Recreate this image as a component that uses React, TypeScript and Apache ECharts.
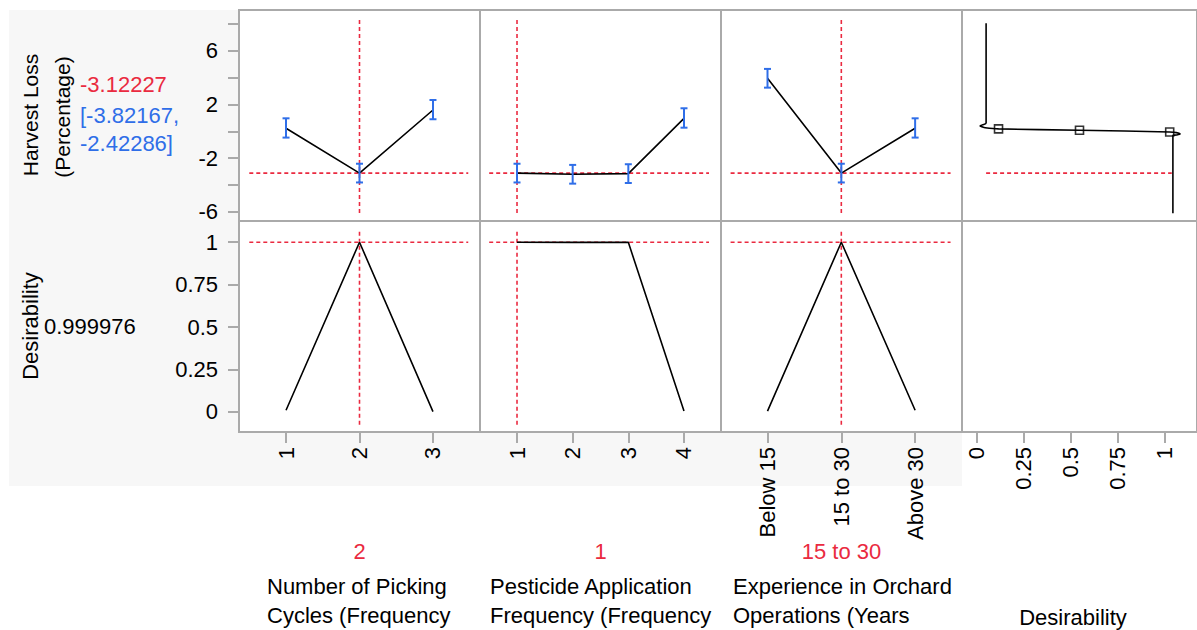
import React, { useEffect, useRef } from "react";
import * as echarts from "echarts";

// ---------- data ----------
const pickLevels = [1, 2, 3];
const pestLevels = [1, 2, 3, 4];
const expCategories = ["Below 15", "15 to 30", "Above 30"];
const expLevels = [1, 2, 3];

const lossPick = [0.23, -3.12227, 1.59];
const lossPickLo = [-0.47, -3.82167, 0.9];
const lossPickHi = [0.97, -2.42286, 2.34];

const lossPest = [-3.12227, -3.21, -3.16, 0.97];
const lossPestLo = [-3.82167, -3.91, -3.86, 0.27];
const lossPestHi = [-2.42286, -2.51, -2.46, 1.72];

const lossExp = [3.96, -3.12227, 0.23];
const lossExpLo = [3.26, -3.82167, -0.47];
const lossExpHi = [4.66, -2.42286, 0.97];

const desPick = [0.01, 0.999976, 0.002];
const desPest = [0.999976, 0.9992, 0.9993, 0.005];
const desExp = [0.005, 0.999976, 0.01];

// desirability function (x = desirability, y = harvest loss)
const desCurveD = [0.05, 0.05, 0.03, 0.018, 0.03, 0.045, 0.116, 0.546, 1.025, 1.06, 1.08, 1.06, 1.042, 1.042];
const desCurveLoss = [8.07, 0.62, 0.48, 0.4, 0.33, 0.27, 0.18, 0.08, -0.05, -0.1, -0.2, -0.28, -0.31, -6.12];
const desMarkD = [0.116, 0.546, 1.025];
const desMarkLoss = [0.18, 0.08, -0.05];

const lossTicks = [-6, -4, -2, 0, 2, 4, 6, 8];
const lossLabels = [-6, -2, 2, 6];
const desTicks = [0, 0.25, 0.5, 0.75, 1];

const currentPick = 2;
const currentPest = 1;
const currentExp = 2;
const predictedLoss = -3.12227;
const predictedLo = -3.82167;
const predictedHi = -2.42286;
const overallDes = 0.999976;

// ---------- style ----------
const RED = "#ea2a40";
const BLUE = "#2f6ee8";
const FONT = '"Liberation Sans", Arial, Helvetica, sans-serif';
const FS = 22;
const GRAY = "#aaaaaa";

const colLeft = [239, 480, 721, 962];
const colW = 241;
const rowTop = [10, 221];
const rowH = 211;

const xRanges = [
  [0.36, 3.64],
  [0.335, 4.665],
  [0.37, 3.635],
  [-0.078, 1.17],
];
const lossRange = [-6.7, 9.06];
const desRange = [-0.118, 1.125];

export default function App() {
  const ref = useRef<HTMLDivElement>(null);
  useEffect(() => {
    document.body.style.margin = "0";
    const chart = echarts.init(ref.current!, null, { renderer: "svg" });

    const grids: any[] = [];
    const xAxes: any[] = [];
    const yAxes: any[] = [];
    const xTickVals = [pickLevels, pestLevels, expLevels, desTicks];
    for (let r = 0; r < 2; r++) {
      for (let c = 0; c < 4; c++) {
        const idx = r * 4 + c;
        grids.push({
          left: colLeft[c],
          top: rowTop[r],
          width: colW,
          height: rowH,
          show: true,
          backgroundColor: "#ffffff",
          borderColor: GRAY,
          borderWidth: 2,
          containLabel: false,
        });
        const showX = r === 1;
        xAxes.push({
          type: "value",
          gridIndex: idx,
          position: "bottom",
          min: xRanges[c][0],
          max: xRanges[c][1],
          show: showX,
          axisLine: { show: false, onZero: false },
          splitLine: { show: false },
          axisTick: {
            show: showX,
            length: 11,
            customValues: xTickVals[c],
            lineStyle: { color: GRAY, width: 2 },
          },
          axisLabel: {
            show: showX,
            rotate: 90,
            margin: 15,
            customValues: xTickVals[c],
            fontSize: FS,
            fontFamily: FONT,
            color: "#000",
            formatter: c === 2 ? (v: number) => expCategories[Math.round(v) - 1] : (v: number) => String(v),
          },
        });
        const showY = c === 0;
        const yr = r === 0 ? lossRange : desRange;
        const yt = r === 0 ? lossTicks : desTicks;
        const yl = r === 0 ? lossLabels : desTicks;
        yAxes.push({
          type: "value",
          gridIndex: idx,
          position: "left",
          min: yr[0],
          max: yr[1],
          show: showY,
          axisLine: { show: false, onZero: false },
          splitLine: { show: false },
          axisTick: {
            show: showY,
            length: 11,
            customValues: yt,
            lineStyle: { color: GRAY, width: 2 },
          },
          axisLabel: {
            show: showY,
            margin: 21,
            align: "right",
            verticalAlign: "middle",
            customValues: yl,
            fontSize: FS,
            fontFamily: FONT,
            color: "#000",
            formatter: (v: number) => String(v),
          },
        });
      }
    }

    const series: any[] = [];
    const zip = (a: number[], b: number[]) => a.map((v, i) => [v, b[i]]);
    const blackLine = (idx: number, data: number[][]) => ({
      type: "line",
      xAxisIndex: idx,
      yAxisIndex: idx,
      data,
      symbol: "none",
      lineStyle: { color: "#000", width: 1.6 },
      z: 3,
      silent: true,
    });
    const redLine = (idx: number, data: number[][]) => ({
      type: "line",
      xAxisIndex: idx,
      yAxisIndex: idx,
      data,
      symbol: "none",
      lineStyle: { color: RED, width: 1.6, type: [4, 3] },
      z: 1,
      silent: true,
    });
    const errBars = (idx: number, xs: number[], lo: number[], hi: number[]) => ({
      type: "custom",
      xAxisIndex: idx,
      yAxisIndex: idx,
      z: 4,
      silent: true,
      data: xs.map((x, i) => [x, lo[i], hi[i]]),
      encode: { x: 0, y: [1, 2] },
      renderItem: (_p: any, api: any) => {
        const x = api.value(0);
        const a = api.coord([x, api.value(1)]);
        const b = api.coord([x, api.value(2)]);
        const hw = 3.5;
        const st = { stroke: BLUE, lineWidth: 2 };
        return {
          type: "group",
          children: [
            { type: "line", shape: { x1: a[0], y1: a[1], x2: b[0], y2: b[1] }, style: st },
            { type: "line", shape: { x1: a[0] - hw, y1: a[1], x2: a[0] + hw, y2: a[1] }, style: st },
            { type: "line", shape: { x1: b[0] - hw, y1: b[1], x2: b[0] + hw, y2: b[1] }, style: st },
          ],
        };
      },
    });

    // row 1: harvest loss
    series.push(blackLine(0, zip(pickLevels, lossPick)));
    series.push(errBars(0, pickLevels, lossPickLo, lossPickHi));
    series.push(blackLine(1, zip(pestLevels, lossPest)));
    series.push(errBars(1, pestLevels, lossPestLo, lossPestHi));
    series.push(blackLine(2, zip(expLevels, lossExp)));
    series.push(errBars(2, expLevels, lossExpLo, lossExpHi));
    series.push({
      type: "line",
      xAxisIndex: 3,
      yAxisIndex: 3,
      data: zip(desCurveD, desCurveLoss),
      symbol: "none",
      smooth: 0.3,
      lineStyle: { color: "#000", width: 1.6 },
      z: 3,
      silent: true,
    });
    series.push({
      type: "scatter",
      xAxisIndex: 3,
      yAxisIndex: 3,
      data: zip(desMarkD, desMarkLoss),
      symbol: "rect",
      symbolSize: 8,
      itemStyle: { color: "rgba(255,255,255,0)", borderColor: "#000", borderWidth: 1.6 },
      z: 5,
      silent: true,
    });

    // crosshairs row 1
    const lossVTop = 8.46;
    const lossVBot = -6.1;
    series.push(redLine(0, [[currentPick, lossVBot], [currentPick, lossVTop]]));
    series.push(redLine(1, [[currentPest, lossVBot], [currentPest, lossVTop]]));
    series.push(redLine(2, [[currentExp, lossVBot], [currentExp, lossVTop]]));
    series.push(redLine(0, [[0.5, predictedLoss], [3.48, predictedLoss]]));
    series.push(redLine(1, [[0.5, predictedLoss], [4.45, predictedLoss]]));
    series.push(redLine(2, [[0.5, predictedLoss], [3.48, predictedLoss]]));
    series.push(redLine(3, [[0.05, predictedLoss], [1.036, predictedLoss]]));

    // row 2: desirability
    series.push(blackLine(4, zip(pickLevels, desPick)));
    series.push(blackLine(5, zip(pestLevels, desPest)));
    series.push(blackLine(6, zip(expLevels, desExp)));
    const desVTop = 1.072;
    const desVBot = -0.075;
    series.push(redLine(4, [[currentPick, desVBot], [currentPick, desVTop]]));
    series.push(redLine(5, [[currentPest, desVBot], [currentPest, desVTop]]));
    series.push(redLine(6, [[currentExp, desVBot], [currentExp, desVTop]]));
    series.push(redLine(4, [[0.5, overallDes], [3.48, overallDes]]));
    series.push(redLine(5, [[0.5, overallDes], [4.45, overallDes]]));
    series.push(redLine(6, [[0.5, overallDes], [3.48, overallDes]]));

    const txt = (text: string, x: number, y: number, opts: any = {}) => ({
      type: "text",
      x,
      y,
      rotation: opts.rotation || 0,
      z: 10,
      style: {
        text,
        fill: opts.color || "#000",
        font: `${opts.size || FS}px ${FONT}`,
        textAlign: opts.align || "left",
        textVerticalAlign: "middle",
      },
    });

    const graphic: any[] = [
      {
        type: "rect",
        z: -100,
        shape: { x: 9, y: 10, width: 953, height: 476 },
        style: { fill: "#f7f7f7" },
        silent: true,
      },
      txt("Harvest Loss", 30, 115, { rotation: Math.PI / 2, align: "center", size: 21 }),
      txt("(Percentage)", 62, 117, { rotation: Math.PI / 2, align: "center", size: 21 }),
      txt(predictedLoss.toFixed(5), 80, 84, { color: RED }),
      txt(`[${predictedLo.toFixed(5)},`, 80, 115, { color: BLUE }),
      txt(`${predictedHi.toFixed(5)}]`, 80, 143, { color: BLUE }),
      txt("Desirability", 30, 326, { rotation: Math.PI / 2, align: "center" }),
      txt(String(overallDes), 44, 326),
      txt(String(currentPick), 359.5, 551, { color: RED, align: "center" }),
      txt(String(currentPest), 600.5, 551, { color: RED, align: "center" }),
      txt(expCategories[currentExp - 1], 841.5, 551, { color: RED, align: "center" }),
      txt("Number of Picking", 267, 586),
      txt("Cycles (Frequency", 267, 615),
      txt("Pesticide Application", 490, 586),
      txt("Frequency (Frequency", 490, 615),
      txt("Experience in Orchard", 733, 586),
      txt("Operations (Years", 733, 615),
      txt("Desirability", 1073, 617, { align: "center" }),
    ];

    chart.setOption({
      animation: false,
      backgroundColor: "#ffffff",
      grid: grids,
      xAxis: xAxes,
      yAxis: yAxes,
      series,
      graphic,
    });
    return () => chart.dispose();
  }, []);
  return <div ref={ref} style={{ width: 1197, height: 630 }} />;
}
